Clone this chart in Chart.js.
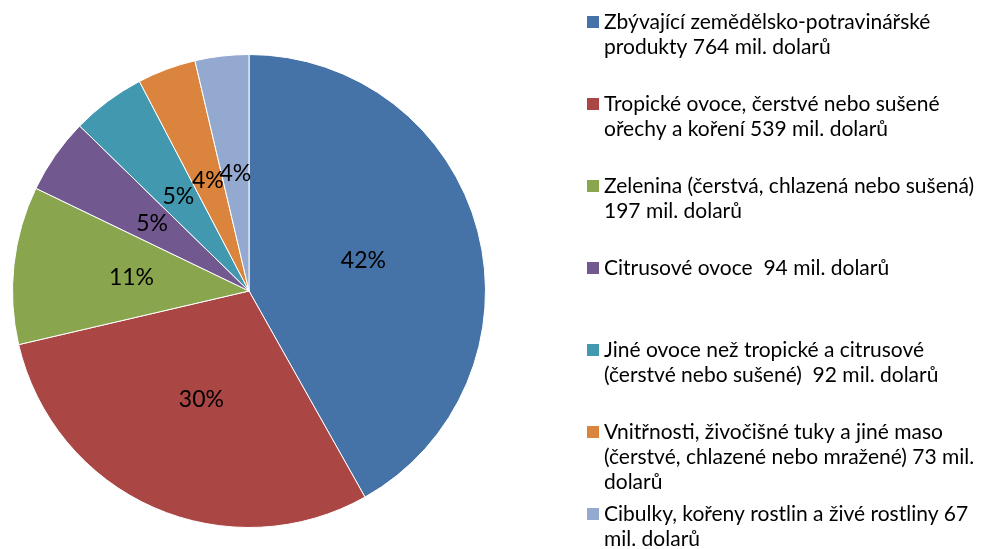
<!DOCTYPE html>
<html>
<head>
<meta charset="utf-8">
<script src="https://cdn.jsdelivr.net/npm/chart.js@4.4.1/dist/chart.umd.min.js"></script>
<style>
  html, body { margin: 0; padding: 0; background: #fff; }
  #wrap { width: 982px; height: 549px; position: relative; }
</style>
</head>
<body>
<div id="wrap"><canvas id="canvas" width="982" height="549"></canvas></div>
<script>
// legend text, already split into lines as in the original
var categories = [
    ['Zbývající zemědělsko-potravinářské', 'produkty 764 mil. dolarů'],
    ['Tropické ovoce, čerstvé nebo sušené', 'ořechy a koření 539 mil. dolarů'],
    ['Zelenina (čerstvá, chlazená nebo sušená)', '197 mil. dolarů'],
    ['Citrusové ovoce  94 mil. dolarů'],
    ['Jiné ovoce než tropické a citrusové', '(čerstvé nebo sušené)  92 mil. dolarů'],
    ['Vnitřnosti, živočišné tuky a jiné maso', '(čerstvé, chlazené nebo mražené) 73 mil.', 'dolarů'],
    ['Cibulky, kořeny rostlin a živé rostliny 67', 'mil. dolarů']
];
var values = [764, 539, 197, 94, 92, 73, 67];
var colors = ['#4572A7', '#AA4643', '#89A54E', '#71588F', '#4198AF', '#DB843D', '#93A9CF'];

var labelsAndLegend = {
    id: 'labelsAndLegend',
    afterDraw: function (chart) {
        var ctx = chart.ctx;
        var meta = chart.getDatasetMeta(0);
        var total = values.reduce(function (a, b) { return a + b; }, 0);

        ctx.save();
        ctx.fillStyle = '#000';
        ctx.font = '23px Lato';
        ctx.textAlign = 'center';
        ctx.textBaseline = 'middle';
        meta.data.forEach(function (arc, i) {
            var p = arc.getCenterPoint();
            ctx.fillText(Math.round(values[i] / total * 100) + '%', p.x, p.y);
        });

        // legend on the right
        ctx.font = '21px Lato';
        ctx.textAlign = 'left';
        categories.forEach(function (lines, i) {
            var y = 22 + i * 82;
            ctx.fillStyle = colors[i];
            ctx.fillRect(587, y - 6, 12, 12);
            ctx.fillStyle = '#000';
            lines.forEach(function (line, j) {
                ctx.fillText(line, 604, y + j * 25);
            });
        });
        ctx.restore();
    }
};

window.onload = function () {
    var ctx = document.getElementById('canvas').getContext('2d');
    window.PieChart = new Chart(ctx, {
        type: 'pie',
        data: {
            labels: categories.map(function (l) { return l.join(' '); }),
            datasets: [{
                data: values,
                backgroundColor: colors,
                borderColor: '#fff',
                borderWidth: 1
            }]
        },
        options: {
            responsive: false,
            animation: false,
            layout: { padding: { left: 12, right: 496, top: 54, bottom: 21 } },
            plugins: {
                legend: { display: false },
                tooltip: { enabled: false }
            }
        },
        plugins: [labelsAndLegend]
    });
};
</script>
</body>
</html>
